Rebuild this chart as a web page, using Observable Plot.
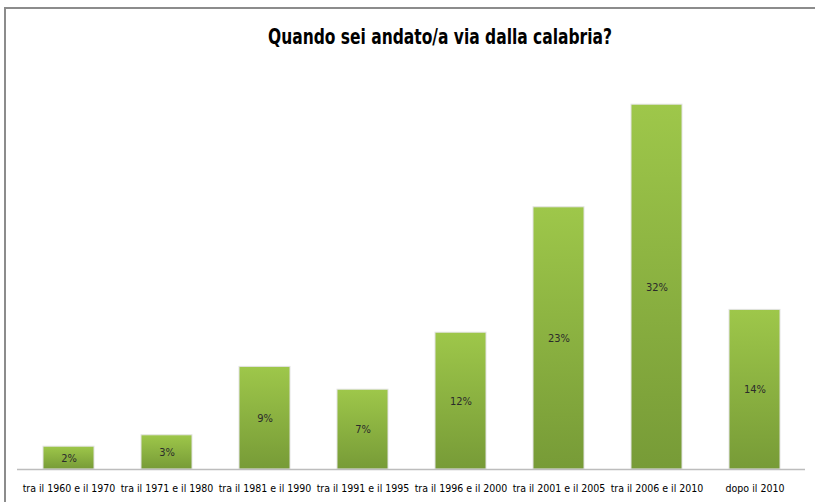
<!DOCTYPE html>
<html>
<head>
<meta charset="utf-8">
<script src="https://cdn.jsdelivr.net/npm/d3@7"></script>
<script src="https://cdn.jsdelivr.net/npm/@observablehq/plot@0.6"></script>
<style>
  html, body { margin: 0; padding: 0; background: #fff; }
  #wrap { position: relative; width: 815px; height: 502px; overflow: hidden; }
  #frame { position: absolute; left: 4px; top: 7px; width: 820px; height: 600px;
           border-left: 2px solid #8c8c8c; border-top: 2px solid #8c8c8c; box-sizing: border-box; }
  #title { position: absolute; left: 440px; top: 25px; transform: translateX(-50%) scaleX(0.82);
           white-space: nowrap; font-family: "DejaVu Sans Condensed", "DejaVu Sans", sans-serif;
           font-weight: bold; font-size: 21px; color: #000; }
  #chart { position: absolute; left: 0; top: 0; }
</style>
</head>
<body>
<div id="wrap">
  <div id="frame"></div>
  <div id="chart"></div>
  <div id="title">Quando sei andato/a via dalla calabria?</div>
</div>
<script>
const categories = ["tra il 1960 e il 1970", "tra il 1971 e il 1980", "tra il 1981 e il 1990", "tra il 1991 e il 1995",
                    "tra il 1996 e il 2000", "tra il 2001 e il 2005", "tra il 2006 e il 2010", "dopo il 2010"];
const values = [2, 3, 9, 7, 12, 23, 32, 14];

const data = categories.map((c, i) => ({category: c, value: values[i]}));
const fontFam = '"DejaVu Sans Condensed", "DejaVu Sans", sans-serif';

const chart = Plot.plot({
  width: 815,
  height: 502,
  marginLeft: 17,
  marginRight: 10,
  marginTop: 70,
  marginBottom: 33,
  style: {fontFamily: fontFam, fontSize: "10.5px", background: "transparent", color: "#000"},
  x: {domain: categories, paddingInner: 0.48, paddingOuter: 0.24, label: null},
  y: {domain: [0, 35], axis: null},
  marks: [
    Plot.barY(data, {x: "category", y: "value", fill: "url(#barGrad)", stroke: "#e3e3e3", strokeWidth: 1}),
    Plot.ruleY([0], {stroke: "#bdbdbd", strokeWidth: 1.5}),
    Plot.text(data, {x: "category", y: d => d.value / 2, text: d => d.value + "%", fill: "#2b2b2b", fontSize: 11}),
    Plot.axisX({tickSize: 0, tickPadding: 15, fontSize: 10.5, label: null})
  ]
});

const defs = d3.select(chart).insert("defs", ":first-child");
const g = defs.append("linearGradient").attr("id", "barGrad").attr("x1", 0).attr("y1", 0).attr("x2", 0).attr("y2", 1);
g.append("stop").attr("offset", "0%").attr("stop-color", "#9ec74a");
g.append("stop").attr("offset", "100%").attr("stop-color", "#779b37");

document.getElementById("chart").appendChild(chart);
</script>
</body>
</html>
